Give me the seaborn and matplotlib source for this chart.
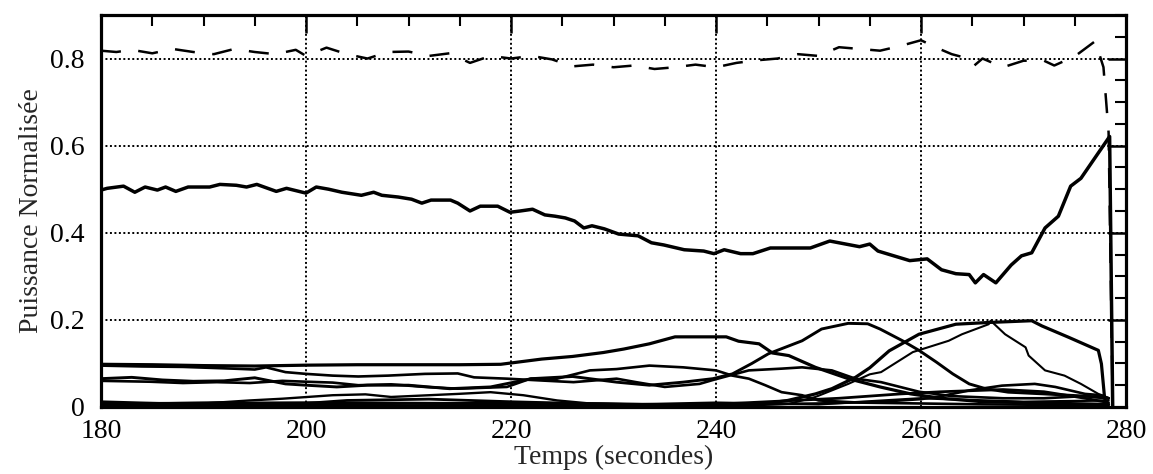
import numpy as np
import pandas as pd
import matplotlib
matplotlib.use("Agg")
import matplotlib.pyplot as plt
from matplotlib.ticker import MultipleLocator
import seaborn as sns

# axis text
x_ticks = [180, 200, 220, 240, 260, 280]
x_tick_labels = ["180", "200", "220", "240", "260", "280"]
y_ticks = [0, 0.2, 0.4, 0.6, 0.8]
y_tick_labels = ["0", "0.2", "0.4", "0.6", "0.8"]

# dashed curve (top, around 0.8)
dash_t = [180, 181.5, 183, 185, 187, 189, 191, 193, 195, 197, 199, 200, 202, 204, 206, 208,
          210, 212, 214, 216, 218, 220, 222, 224, 226, 228, 230, 232, 234, 236, 238, 240,
          242, 244, 246, 248, 250, 252, 254, 256, 258, 260, 261.5, 263, 264.6, 265.2, 266,
          268, 270, 272, 273, 275, 277, 277.8, 278.3, 278.7]
dash_v = [0.818, 0.815, 0.82, 0.812, 0.822, 0.815, 0.81, 0.822, 0.815, 0.81, 0.82, 0.806,
          0.825, 0.81, 0.80, 0.815, 0.816, 0.806, 0.812, 0.79, 0.806, 0.80, 0.806, 0.798,
          0.782, 0.786, 0.78, 0.784, 0.776, 0.78, 0.786, 0.78, 0.79, 0.796, 0.80, 0.81,
          0.806, 0.826, 0.822, 0.818, 0.829, 0.842, 0.825, 0.81, 0.80, 0.784, 0.80, 0.78,
          0.795, 0.795, 0.784, 0.805, 0.84, 0.78, 0.63, 0.0]

# main curve (around 0.5 -> 0.3 -> 0.62)
main_t = [180, 180.6, 182.2, 183.3, 184.3, 185.5, 186.3, 187.3, 188.5, 190.6, 191.6, 193.2,
          194.2, 195.2, 197.1, 198.1, 200, 201, 202.2, 203.5, 205.4, 206.6, 207.4, 209,
          210.3, 211.3, 212.2, 214.1, 214.8, 216, 217, 218.7, 219.9, 220.9, 222.1, 223.3,
          224.3, 225.3, 226.2, 227.1, 227.9, 229.1, 230.5, 232.4, 233.7, 234.9, 236.9,
          238.8, 239.8, 240.8, 242.4, 243.6, 245.3, 249.2, 251.1, 254, 255, 255.8, 258.9,
          260.6, 262, 263.4, 264.7, 265.3, 266.1, 267.3, 268.8, 269.8, 270.8, 272.1, 273.4,
          274.6, 275.6, 278.4, 278.7]
main_v = [0.498, 0.502, 0.507, 0.493, 0.505, 0.498, 0.505, 0.495, 0.505, 0.505, 0.511,
          0.509, 0.505, 0.511, 0.495, 0.502, 0.491, 0.505, 0.5, 0.493, 0.486, 0.493, 0.486,
          0.482, 0.477, 0.468, 0.475, 0.475, 0.468, 0.45, 0.461, 0.461, 0.447, 0.45, 0.454,
          0.441, 0.438, 0.434, 0.427, 0.411, 0.416, 0.409, 0.397, 0.393, 0.377, 0.372,
          0.361, 0.358, 0.352, 0.361, 0.352, 0.352, 0.365, 0.365, 0.381, 0.368, 0.374,
          0.358, 0.336, 0.34, 0.315, 0.306, 0.304, 0.285, 0.304, 0.285, 0.326, 0.347,
          0.354, 0.411, 0.438, 0.507, 0.525, 0.621, 0.0]

# lower curves
a_t = [180, 185, 190, 195, 200, 205, 210, 215, 219, 223, 226, 229, 231, 233.5, 236, 241,
       242.2, 244.2, 245.5, 247.1, 249.7, 252.9, 256, 259, 262, 266, 270, 274, 278.3]
a_v = [0.098, 0.097, 0.095, 0.094, 0.096, 0.097, 0.097, 0.097, 0.098, 0.11, 0.116, 0.125,
       0.133, 0.145, 0.161, 0.161, 0.151, 0.145, 0.124, 0.118, 0.091, 0.065, 0.046, 0.03,
       0.02, 0.012, 0.01, 0.008, 0.006]

b_t = [180, 184, 188, 192.9, 195, 196.1, 198, 200, 202.6, 205.1, 208, 211.6, 214.8, 216.4,
       219.6, 222.8, 226.1, 230.3, 232.2, 235, 238.4, 239.7, 241.6, 243.2, 246.4, 248.4,
       251.3, 253.6, 256.1, 259.8, 263, 268, 272, 276, 278.3]
b_v = [0.095, 0.093, 0.092, 0.088, 0.086, 0.091, 0.08, 0.076, 0.072, 0.07, 0.072, 0.076,
       0.077, 0.068, 0.065, 0.061, 0.057, 0.065, 0.057, 0.046, 0.053, 0.062, 0.074, 0.084,
       0.088, 0.091, 0.084, 0.065, 0.057, 0.035, 0.025, 0.02, 0.02, 0.025, 0.02]

c_t = [180, 183, 186, 189, 192, 195, 198, 200, 203, 206, 210, 214, 218, 222, 226, 230.3,
       233.5, 236.8, 239.7, 241.6, 243.5, 245.1, 248.4, 250.3, 252.9, 254.8, 256, 258.2,
       259.8, 261.5, 263.1, 264.7, 266.3, 268.5, 272, 276, 278.3]
c_v = [0.065, 0.068, 0.062, 0.059, 0.06, 0.067, 0.053, 0.05, 0.046, 0.05, 0.05, 0.042,
       0.046, 0.065, 0.07, 0.057, 0.05, 0.057, 0.065, 0.076, 0.1, 0.122, 0.152, 0.179,
       0.192, 0.191, 0.179, 0.152, 0.13, 0.103, 0.076, 0.053, 0.042, 0.034, 0.03, 0.025,
       0.02]

d_t = [180, 190, 200, 210, 220, 230, 240, 244, 247.1, 249.7, 252.9, 255, 256.1, 259.2,
       262.7, 264, 266.6, 266.8, 268.2, 270.2, 270.5, 272.1, 274, 275.6, 277.3, 278.3]
d_v = [0.005, 0.005, 0.006, 0.008, 0.01, 0.008, 0.005, 0.004, 0.007, 0.023, 0.053, 0.075,
       0.08, 0.126, 0.152, 0.167, 0.19, 0.198, 0.167, 0.137, 0.118, 0.084, 0.072, 0.053,
       0.03, 0.02]

e_t = [180, 195, 210, 225, 238, 244, 247, 249.7, 251.3, 253.6, 255, 256.9, 259.8, 263.4,
       266.6, 270.8, 271.8, 274.4, 277.3, 277.6, 277.9, 278.1]
e_v = [0.003, 0.004, 0.003, 0.004, 0.004, 0.005, 0.015, 0.03, 0.042, 0.068, 0.09, 0.129,
       0.167, 0.19, 0.194, 0.198, 0.186, 0.16, 0.13, 0.099, 0.023, 0.0]

f_t = [180, 184.8, 188, 191.3, 194.5, 197.7, 200, 202.6, 205.1, 208.3, 211.6, 214.8, 219.6,
       221.9, 224.5, 227.7, 230.3, 233.5, 236.8, 240, 241.6, 243.2, 244.8, 246.4, 248.4,
       250, 254, 260, 266, 272, 278.3]
f_v = [0.06, 0.058, 0.055, 0.057, 0.055, 0.06, 0.058, 0.056, 0.05, 0.052, 0.046, 0.042,
       0.046, 0.065, 0.065, 0.084, 0.087, 0.095, 0.091, 0.084, 0.072, 0.065, 0.05, 0.034,
       0.027, 0.015, 0.01, 0.008, 0.006, 0.005, 0.004]

h_t = [180, 200, 220, 240, 250, 256, 260, 262, 264.7, 267.9, 271.1, 273.1, 276, 277.6, 278.3]
h_v = [0.008, 0.01, 0.008, 0.005, 0.008, 0.012, 0.018, 0.025, 0.038, 0.049, 0.053, 0.046,
       0.03, 0.027, 0.02]

i_t = [180, 190, 194.5, 197.7, 202.6, 205.8, 208.3, 214.8, 218, 221.2, 224.5, 227.7, 232,
       240, 250, 260, 270, 278.3]
i_v = [0.006, 0.008, 0.015, 0.019, 0.027, 0.029, 0.023, 0.03, 0.034, 0.027, 0.015, 0.008,
       0.006, 0.01, 0.006, 0.02, 0.012, 0.015]

j_t = [180, 186, 192, 198, 204, 212, 220, 230, 238, 245, 252, 258, 262, 268, 272, 276, 278.3]
j_v = [0.012, 0.008, 0.01, 0.005, 0.015, 0.018, 0.012, 0.006, 0.004, 0.012, 0.02, 0.03,
       0.035, 0.04, 0.035, 0.02, 0.01]

sns.set_style("white")
plt.rcParams["font.family"] = ["Liberation Serif", "DejaVu Serif"]

fig = plt.figure(figsize=(11.53, 4.74), dpi=100)
ax = fig.add_axes([0.0876, 0.1414, 0.889, 0.827])

# thin curves first, then the thick ones
lower = [(a_t, a_v, 2.3), (b_t, b_v, 1.9), (c_t, c_v, 2.1), (d_t, d_v, 1.5),
         (e_t, e_v, 2.3), (f_t, f_v, 1.9), (h_t, h_v, 1.9), (i_t, i_v, 1.7), (j_t, j_v, 2.0)]
for t, v, w in lower:
    sns.lineplot(x=t, y=v, ax=ax, color="black", lw=w, sort=False)

sns.lineplot(x=main_t, y=main_v, ax=ax, color="black", lw=2.5, sort=False)
sns.lineplot(x=dash_t, y=dash_v, ax=ax, color="black", lw=1.8, sort=False,
             linestyle=(0, (8, 7)))

ax.set_xlim(180, 280)
ax.set_ylim(0, 0.9)
ax.set_xticks(x_ticks)
ax.set_xticklabels(x_tick_labels)
ax.set_yticks(y_ticks)
ax.set_yticklabels(y_tick_labels)
ax.xaxis.set_minor_locator(MultipleLocator(5))
ax.yaxis.set_minor_locator(MultipleLocator(0.05))

ax.tick_params(which="both", direction="in", top=True, right=True, colors="black",
               labelsize=20)
ax.tick_params(which="major", length=13, width=1.8)
ax.tick_params(which="minor", length=8, width=1.5)
ax.tick_params(axis="x", pad=9)
ax.tick_params(axis="y", pad=12)

ax.grid(True, which="major", color="black", linestyle=(0, (1, 1.3)), lw=1.4)
for s in ax.spines.values():
    s.set_visible(True)
    s.set_color("black")
    s.set_linewidth(2.3)

ax.set_xlabel("Temps (secondes)", fontsize=20, labelpad=0)
ax.set_ylabel("Puissance Normalisée", fontsize=20, labelpad=4)

fig.savefig("out.png", dpi=100)
